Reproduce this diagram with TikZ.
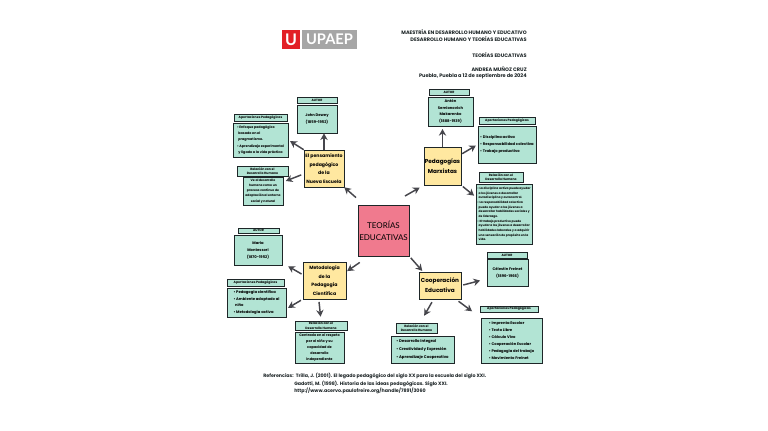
\documentclass[tikz,border=0pt]{standalone}
\usepackage{fontspec}
\setmainfont{Lato}
\newfontfamily\handfont{Poppins}
\usetikzlibrary{arrows.meta,positioning}
\definecolor{mlink}{RGB}{30,38,40}
\definecolor{mlarrow}{RGB}{70,70,76}
\definecolor{mlgreen}{RGB}{178,228,212}
\definecolor{mlyellow}{RGB}{255,232,160}
\definecolor{mlpink}{RGB}{240,122,142}
\definecolor{mlred}{RGB}{226,32,38}
\definecolor{mlgray}{RGB}{166,166,166}

\begin{document}
\begin{tikzpicture}[x=0.75pt,y=-0.75pt,
  wh/.style 2 args={minimum width=#1*0.75pt, minimum height=#2*0.75pt},
  greenbox/.style={draw=mlink, fill=mlgreen, line width=0.55pt, inner sep=0.5pt, align=center, font=\handfont\bfseries\fontsize{2.8}{5.2}\selectfont},
  headbox/.style={greenbox, font=\handfont\bfseries\fontsize{2.35}{3.4}\selectfont},
  listbox/.style={greenbox, align=left},
  topicbox/.style={draw=mlink, fill=mlyellow, line width=0.45pt, inner sep=0.5pt, align=center, font=\handfont\bfseries\fontsize{4.3}{7.6}\selectfont},
  mainbox/.style={draw=mlink, fill=mlpink, line width=0.55pt, inner sep=1pt, align=center, font=\fontsize{6}{9.2}\selectfont},
  infotext/.style={inner sep=0pt, align=right, anchor=east, font=\handfont\bfseries\fontsize{3.75}{4}\selectfont, text=mlink},
  reftext/.style={inner sep=0pt, anchor=west, font=\handfont\bfseries\fontsize{3.58}{4}\selectfont, text=mlink},
  link/.style={-{Stealth[length=5pt,width=5.5pt]}, mlarrow, line width=1.1pt}]
\useasboundingbox[fill=white] (0,0) rectangle (768,431);

% logo
\node[fill=mlred, wh={18}{19}, inner sep=0pt, text=white, font=\bfseries\fontsize{12}{12}\selectfont] (logou) at (291,39.5) {U};
\node[fill=mlgray, wh={55}{19}, inner sep=0pt, text=white, font=\bfseries\fontsize{11}{11}\selectfont] (logotxt) at (329.5,39.5) {UPAEP};

% title block
\node[infotext] (info1) at (527,32) {MAESTRÍA EN DESARROLLO HUMANO Y EDUCATIVO};
\node[infotext] (info2) at (527,39.5) {DESARROLLO HUMANO Y TEORÍAS EDUCATIVAS};
\node[infotext] (info3) at (527,55) {TEORÍAS EDUCATIVAS};
\node[infotext] (info4) at (527,69) {ANDREA MUÑOZ CRUZ};
\node[infotext] (info5) at (527,76) {Puebla, Puebla a 12 de septiembre de 2024};

% center
\node[mainbox, wh={51}{51}] (center) at (383.5,230.5) {TEORÍAS\\EDUCATIVAS};

% topics
\node[topicbox, wh={40}{37}, font=\handfont\bfseries\fontsize{3.5}{6.5}\selectfont] (ne) at (324,168.5) {El pensamiento\\pedagógico\\de la\\Nueva Escuela};
\node[topicbox, wh={37}{38}] (pm) at (442.5,166) {Pedagogías\\Marxistas};
\node[topicbox, wh={43}{37}, font=\handfont\bfseries\fontsize{3.5}{6.5}\selectfont] (mc) at (324.5,280.5) {Metodología\\de la\\Pedagogía\\Científica};
\node[topicbox, wh={42}{27}] (ce) at (440,285.5) {Cooperación\\Educativa};

% nueva escuela
\node[headbox, wh={40}{6}] (autorne) at (317,100) {AUTOR};
\node[greenbox, wh={40}{28}] (bodyne) at (317,119) {John Dewey\\(1859-1952)};
\node[headbox, wh={53}{7}] (aporthne) at (260.5,117.5) {Aportaciones Pedagógicas};
\node[listbox, wh={55}{34}, font=\handfont\bfseries\fontsize{2.5}{4.8}\selectfont] (aportne) at (260.5,140) {\textbullet\ Enfoque pedagógico\\\ \ basado en el\\\ \ pragmatismo.\\\textbullet\ Aprendizaje experimental\\\ \ y ligado a la vida práctica};
\node[headbox, wh={51}{10}] (relhne) at (262.5,171) {Relación con el\\Desarrollo Humano};
\node[greenbox, wh={40}{28}, font=\handfont\bfseries\fontsize{2.3}{3.95}\selectfont] (relne) at (263,191) {Ve al desarrollo\\humano como un\\proceso continuo de\\adaptación al entorno\\social y natural};

% marxistas
\node[headbox, wh={40}{6}] (autorhpm) at (449,92) {AUTOR};
\node[greenbox, wh={45}{29}, font=\handfont\bfseries\fontsize{2.8}{5}\selectfont] (autorpm) at (450.5,111.5) {Antón\\Semionovich\\Makarenko\\(1888-1939)};
\node[headbox, wh={56}{7}] (aporthpm) at (507,120.5) {Aportaciones Pedagógicas};
\node[listbox, wh={58}{37}] (aportpm) at (507,144.5) {\textbullet\ Disciplina activa\\\textbullet\ Responsabilidad colectiva\\\textbullet\ Trabajo productivo};
\node[headbox, wh={44}{10}] (relhpm) at (501,177) {Relación con el\\Desarrollo Humano};
\node[listbox, wh={56}{60}, font=\handfont\bfseries\fontsize{2.2}{3.5}\selectfont] (relpm) at (504,214) {\textbullet\ La disciplina activa puede ayudar\\\ \ a los jóvenes a desarrollar\\\ \ autodisciplina y autocontrol.\\\textbullet\ La responsabilidad colectiva\\\ \ puede ayudar a los jóvenes a\\\ \ desarrollar habilidades sociales y\\\ \ de liderazgo.\\\textbullet\ El trabajo productivo puede\\\ \ ayudar a los jóvenes a desarrollar\\\ \ habilidades laborales y a adquirir\\\ \ una sensación de propósito en la\\\ \ vida.};

% montessori
\node[headbox, wh={41}{5}] (autorhmc) at (258.5,230.5) {AUTOR};
\node[greenbox, wh={48}{30}] (autormc) at (258,250) {María\\Montessori\\(1870-1952)};
\node[headbox, wh={57}{7}] (aporthmc) at (255.5,282.5) {Aportaciones Pedagógicas};
\node[listbox, wh={59}{29}, font=\handfont\bfseries\fontsize{2.8}{5}\selectfont] (aportmc) at (256.5,302.5) {\textbullet\ Pedagogía científica\\\textbullet\ Ambiente adaptado al\\\ \ niño\\\textbullet\ Metodología activa};
\node[headbox, wh={52}{9}] (relhmc) at (321,325.5) {Relación con el\\Desarrollo Humano};
\node[greenbox, wh={49}{31}, font=\handfont\bfseries\fontsize{2.6}{4.4}\selectfont] (relmc) at (319.5,347.5) {Centrado en el respeto\\por el niño y su\\capacidad de\\desarrollo\\independiente};

% freinet
\node[headbox, wh={40}{6}] (autorhce) at (507,255) {AUTOR};
\node[greenbox, wh={41}{27}] (autorce) at (507.5,272.5) {Célestin Freinet\\(1896-1966)};
\node[headbox, wh={58}{6}] (aporthce) at (509,309) {Aportaciones Pedagógicas};
\node[listbox, wh={61}{45}, font=\handfont\bfseries\fontsize{2.8}{5.2}\selectfont] (aportce) at (511.5,340.5) {\textbullet\ Imprenta Escolar\\\textbullet\ Texto Libre\\\textbullet\ Cálculo Vivo\\\textbullet\ Cooperación Escolar\\\textbullet\ Pedagogía del trabajo\\\textbullet\ Movimiento Freinet};
\node[headbox, wh={41}{10}] (relhce) at (416.5,328) {Relación con el\\Desarrollo Humano};
\node[listbox, wh={63}{27}, font=\handfont\bfseries\fontsize{2.9}{6}\selectfont] (relce) at (422.5,350) {\textbullet\ Desarrollo Integral\\\textbullet\ Creatividad y Expresión\\\textbullet\ Aprendizaje Cooperativo};

% references
\node[reftext] (ref1) at (263,376) {Referencias:\ \ Trilla, J. (2001). El legado pedagógico del siglo XX para la escuela del siglo XXI.};
\node[reftext] (ref2) at (294,384) {Gadotti, M. (1998). Historia de las ideas pedagógicas. Siglo XXI.};
\node[reftext] (ref3) at (294,391) {http://www.acervo.paulofreire.org/handle/7891/3060};

% connectors
\draw[link, shorten <=8pt] (center.127) -- (ne.south east);
\draw[link, shorten <=13pt, shorten >=3.5pt] (center.76) -- (pm.south west);
\draw[link, shorten <=8pt, shorten >=0.8pt] (center.240) -- (mc.22);
\draw[link, shorten <=1.5pt, shorten >=0.8pt] (center.south east) -- (ce.141);
\draw[link] (ne.north) -- (ne.north |- bodyne.south);
\draw[link, shorten >=1.5pt] (ne.north west) -- (aportne.east);
\draw[link, shorten <=2pt, shorten >=2pt] (ne.195) -- (relne.24);
\draw[link, shorten >=2pt] (pm.north) -- (pm.north |- autorpm.south);
\draw[link, shorten <=0.8pt, shorten >=1.5pt] (pm.32) -- (aportpm.west);
\draw[link, shorten <=1.5pt, shorten >=1.5pt] (pm.south east) -- (relpm.149);
\draw[link, shorten <=1pt, shorten >=5pt] (mc.165) -- (autormc.-28);
\draw[link, shorten <=1.5pt, shorten >=1.5pt] (mc.south west) -- (aportmc.-12);
\draw[link, shorten <=2pt, shorten >=3pt] (mc.253) -- (relhmc.north);
\draw[link, shorten <=1.5pt, shorten >=5pt] (ce.east) -- (autorce.197);
\draw[link, shorten <=2.5pt, shorten >=8pt] (ce.-41) -- (aportce.north west);
\draw[link, shorten <=2.5pt, shorten >=6pt] (ce.245) -- (relhce.55);
\end{tikzpicture}
\end{document}
